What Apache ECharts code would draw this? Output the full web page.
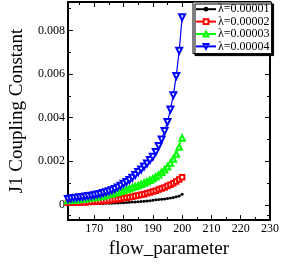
<!DOCTYPE html>
<html><head><meta charset="utf-8">
<script src="https://cdn.jsdelivr.net/npm/echarts@6/dist/echarts.min.js"></script>
<style>html,body{margin:0;padding:0;background:#fff}#c{width:282px;height:264px}</style>
</head><body><div id="c"></div>
<script>
var flowParameter = [161,162,163,164,165,166,167,168,169,170,171,172,173,174,175,176,177,178,179,180,181,182,183,184,185,186,187,188,189,190,191,192,193,194,195,196,197,198,199,200];
var lambda1 = [0.030,0.032,0.034,0.036,0.038,0.040,0.043,0.046,0.049,0.052,0.056,0.060,0.064,0.068,0.073,0.078,0.083,0.089,0.095,0.100,0.110,0.117,0.125,0.133,0.142,0.151,0.161,0.172,0.184,0.215,0.228,0.240,0.255,0.270,0.290,0.310,0.335,0.365,0.410,0.480];
var lambda2 = [0.090,0.095,0.100,0.105,0.110,0.115,0.120,0.130,0.140,0.150,0.160,0.170,0.180,0.190,0.210,0.220,0.240,0.260,0.280,0.310,0.330,0.350,0.370,0.400,0.430,0.460,0.490,0.530,0.570,0.610,0.650,0.700,0.750,0.800,0.860,0.920,0.990,1.070,1.160,1.270];
var lambda3 = [0.200,0.210,0.220,0.235,0.250,0.265,0.280,0.300,0.320,0.340,0.360,0.380,0.410,0.440,0.470,0.500,0.540,0.580,0.620,0.660,0.700,0.740,0.790,0.840,0.890,0.940,1.000,1.060,1.130,1.200,1.290,1.380,1.490,1.610,1.750,1.910,2.100,2.330,2.650,3.060];
var lambda4 = [0.270,0.290,0.310,0.330,0.345,0.360,0.380,0.400,0.420,0.440,0.470,0.500,0.540,0.580,0.620,0.670,0.730,0.800,0.880,0.970,1.050,1.140,1.240,1.370,1.500,1.620,1.760,1.900,2.050,2.200,2.420,2.700,3.000,3.380,3.800,4.370,5.030,5.910,7.070,8.600];
var seriesNames = ['λ=0.00001','λ=0.00002','λ=0.00003','λ=0.00004'];
var xMajorTicks = [170,180,190,200,210,220,230];
var xMinorTicks = [165,175,185,195,205,215,225];
var yMajorTicks = [0,0.002,0.004,0.006,0.008];
var yMinorTicks = [-0.0005,0.001,0.003,0.005,0.007,0.009];
var yTickLabels = ['0','0.002','0.004','0.006','0.008'];

function pairs(vals){ return flowParameter.map(function(x,i){ return [x, vals[i]/1000]; }); }
var serif = 'Liberation Serif';
var XMIN = 161, XMAX = 230, YMIN = -0.0007, YMAX = 0.0093;
function xAx(pos, ticks, len, labels, line){
  return {type:'value', position:pos, min:XMIN, max:XMAX,
    axisLine:{show:line, onZero:false, lineStyle:{color:'#000', width:2}},
    axisTick:{show:true, inside:true, length:len, customValues:ticks, lineStyle:{color:'#000', width:1}},
    axisLabel:{show:labels, customValues:ticks, margin:3, color:'#000', fontFamily:serif, fontSize:12},
    splitLine:{show:false}};
}
function yAx(pos, ticks, len, labels, line){
  return {type:'value', position:pos, min:YMIN, max:YMAX,
    axisLine:{show:line, onZero:false, lineStyle:{color:'#000', width:2}},
    axisTick:{show:true, inside:true, length:len, customValues:ticks, lineStyle:{color:'#000', width:1}},
    axisLabel:{show:labels, customValues:ticks, margin:3, color:'#000', fontFamily:serif, fontSize:12,
      formatter:function(v){ var i = yMajorTicks.findIndex(function(t){return Math.abs(t-v)<1e-9;}); return i>=0 ? yTickLabels[i] : ''; }},
    splitLine:{show:false}};
}
var xa0 = xAx('bottom', xMajorTicks, 5, true, true);
xa0.name = 'flow_parameter'; xa0.nameLocation='middle'; xa0.nameGap = 13;
xa0.nameTextStyle = {fontFamily:serif, fontSize:19, color:'#000'};
var ya0 = yAx('left', yMajorTicks, 5, true, true);
ya0.name = 'J1 Coupling Constant'; ya0.nameLocation='middle'; ya0.nameGap = 36;
ya0.nameTextStyle = {fontFamily:serif, fontSize:19, color:'#000'};

var chart = echarts.init(document.getElementById('c'), null, {renderer:'canvas'});
chart.setOption({
  animation:false,
  backgroundColor:'#fff',
  grid:{left:51, right:9, top:2, bottom:32},
  xAxis:[xa0, xAx('bottom', xMinorTicks, 3, false, false), xAx('top', xMajorTicks, 5, false, true), xAx('top', xMinorTicks, 3, false, false)],
  yAxis:[ya0, yAx('left', yMinorTicks, 3, false, false), yAx('right', yMajorTicks, 5, false, true), yAx('right', yMinorTicks, 3, false, false)],
  legend:{orient:'vertical', left:193, top:2, padding:[1,2,1,2], itemGap:0, itemWidth:20, itemHeight:6,
    backgroundColor:'#fff', borderColor:'#000', borderWidth:1,
    shadowColor:'#000', shadowBlur:0, shadowOffsetX:2, shadowOffsetY:2,
    textStyle:{fontFamily:serif, fontSize:12, color:'#000', lineHeight:12.4, padding:[0,0,0,-3]},
    data:seriesNames},
  series:[
    {name:seriesNames[0], type:'line', data:pairs(lambda1), symbol:'circle', symbolSize:3, showAllSymbol:true,
      itemStyle:{color:'#000'}, lineStyle:{color:'#000', width:1}},
    {name:seriesNames[1], type:'line', data:pairs(lambda2), symbol:'emptyRect', symbolSize:4.5, showAllSymbol:true,
      itemStyle:{color:'#ff0000', borderWidth:1}, lineStyle:{color:'#ff0000', width:1}},
    {name:seriesNames[2], type:'line', data:pairs(lambda3), symbol:'emptyTriangle', symbolSize:5.5, showAllSymbol:true,
      itemStyle:{color:'#00ff00', borderWidth:1}, lineStyle:{color:'#00ff00', width:1}},
    {name:seriesNames[3], type:'line', data:pairs(lambda4), symbol:'emptyTriangle', symbolRotate:180, symbolSize:6, showAllSymbol:true,
      itemStyle:{color:'#0000ff', borderWidth:1}, lineStyle:{color:'#0000ff', width:1.2}}
  ]
});
</script></body></html>
